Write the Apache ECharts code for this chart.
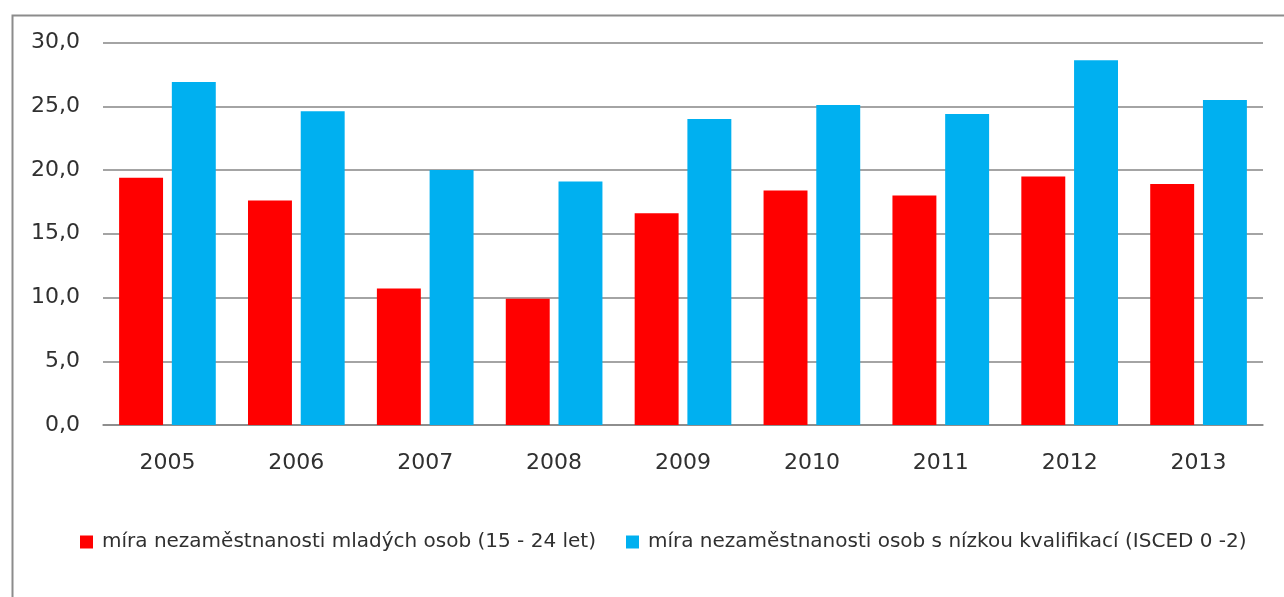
<!DOCTYPE html>
<html>
<head>
<meta charset="utf-8">
<script src="https://cdn.jsdelivr.net/npm/echarts@6/dist/echarts.min.js"></script>
<style>
html,body{margin:0;padding:0;background:#fff;}
#c{width:1284px;height:597px;}
</style>
</head>
<body>
<div id="c"></div>
<script>
const years = ['2005','2006','2007','2008','2009','2010','2011','2012','2013'];
const youth = [19.4, 17.6, 10.7, 9.9, 16.6, 18.4, 18.0, 19.5, 18.9];
const lowQual = [26.9, 24.6, 20.0, 19.1, 24.0, 25.1, 24.4, 28.6, 25.5];
const seriesNames = ['míra nezaměstnanosti mladých osob (15 - 24 let)', 'míra nezaměstnanosti osob s nízkou kvalifikací (ISCED 0 -2)'];
const yTicks = {min: 0, max: 30, interval: 5};

const chart = echarts.init(document.getElementById('c'));
const font = 'DejaVu Sans';
chart.setOption({
  animation: false,
  backgroundColor: '#fff',
  graphic: [{
    type: 'rect', left: 10, top: 13,
    shape: {width: 1300, height: 620},
    style: {fill: 'none', stroke: '#8c8c8c', lineWidth: 2},
    z: -1
  }],
  grid: {left: 103, right: 21, top: 42.5, bottom: 172},
  legend: {
    top: 527, left: 75,
    itemWidth: 13, itemHeight: 13, itemGap: 30,
    icon: 'rect',
    textStyle: {fontFamily: font, fontSize: 20, color: '#303030', padding: [0, 0, 0, 4]},
    data: seriesNames
  },
  xAxis: {
    type: 'category', data: years,
    axisLine: {lineStyle: {color: '#868686', width: 1.5}},
    axisTick: {show: false},
    axisLabel: {fontFamily: font, fontSize: 22, color: '#303030', margin: 27}
  },
  yAxis: {
    type: 'value', min: yTicks.min, max: yTicks.max, interval: yTicks.interval,
    axisLine: {show: false}, axisTick: {show: false},
    splitLine: {lineStyle: {color: '#868686', width: 1.5}},
    axisLabel: {fontFamily: font, fontSize: 22, color: '#303030', margin: 23,
      formatter: v => v.toFixed(1).replace('.', ',')}
  },
  series: [
    {name: seriesNames[0], type: 'bar', data: youth, itemStyle: {color: '#FF0000'}, barGap: '20%', barCategoryGap: '25%'},
    {name: seriesNames[1], type: 'bar', data: lowQual, itemStyle: {color: '#00B0F0'}}
  ]
});
</script>
</body>
</html>
